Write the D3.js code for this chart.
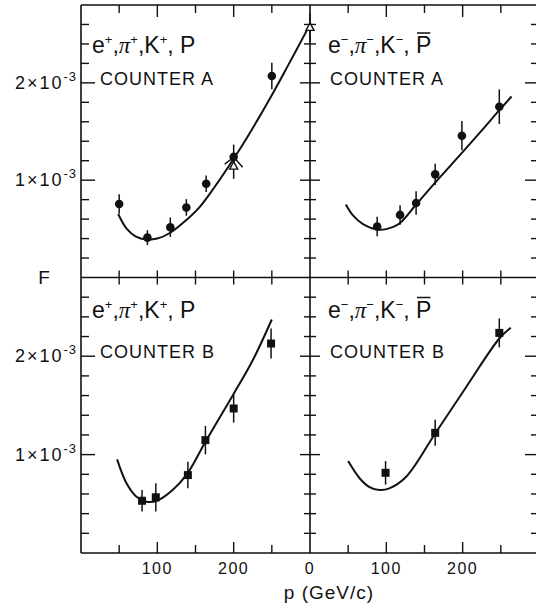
<!DOCTYPE html>
<html>
<head>
<meta charset="utf-8">
<script src="https://cdn.jsdelivr.net/npm/d3@7"></script>
<style>
body { margin: 0; background: #fff; }
svg { display: block; }
text { font-family: "Liberation Sans", Arial, sans-serif; fill: #111; }
</style>
</head>
<body>
<div id="chart"></div>
<script>
// F values are in units of 1e-3, p in GeV/c

// counter A, positive particles (filled circles)
var aPosP = [50, 87, 117, 138, 164, 200, 250]
var aPosF = [0.755, 0.41, 0.517, 0.72, 0.964, 1.239, 2.07]
var aPosE = [0.10, 0.076, 0.10, 0.085, 0.085, 0.127, 0.136]
// counter A, positive, open triangles
var aTriP = [200, 300]
var aTriF = [1.144, 2.57]
var aTriE = [0.13, 0.15]
// counter A, negative particles (filled circles)
var aNegP = [88, 118, 139, 164, 199, 248]
var aNegF = [0.524, 0.643, 0.765, 1.06, 1.457, 1.755]
var aNegE = [0.10, 0.10, 0.12, 0.11, 0.15, 0.178]
// counter B, positive (filled squares)
var bPosP = [80, 98, 140, 163, 200, 249]
var bPosF = [0.531, 0.566, 0.792, 1.147, 1.469, 2.129]
var bPosE = [0.11, 0.144, 0.135, 0.144, 0.144, 0.152]
// counter B, negative (filled squares)
var bNegP = [99, 164, 248]
var bNegF = [0.815, 1.221, 2.237]
var bNegE = [0.12, 0.132, 0.147]

// fitted curves
var aPosCurveP = [48.7, 60, 72, 85, 100, 117, 138, 155, 175, 200, 220, 249, 272, 298]
var aPosCurveF = [0.653, 0.50, 0.42, 0.39, 0.40, 0.46, 0.59, 0.72, 0.93, 1.22, 1.47, 1.86, 2.19, 2.57]
var aNegCurveP = [47, 56, 70, 91, 109, 118, 139, 164, 199, 226, 248, 264]
var aNegCurveF = [0.75, 0.64, 0.545, 0.49, 0.52, 0.56, 0.75, 0.975, 1.28, 1.52, 1.72, 1.86]
var bPosCurveP = [47.3, 59.6, 72.6, 85.7, 98.7, 120, 140, 163, 199, 225, 250]
var bPosCurveF = [0.951, 0.708, 0.572, 0.521, 0.528, 0.64, 0.815, 1.13, 1.604, 1.959, 2.373]
var bNegCurveP = [50, 65, 78, 91, 104, 126, 164, 204, 248, 263]
var bNegCurveF = [0.934, 0.76, 0.67, 0.64, 0.657, 0.775, 1.215, 1.68, 2.18, 2.29]

var xTicks = [50, 100, 150, 200, 250]
var yTicks = [0.2, 0.4, 0.6, 0.8, 1.0, 1.2, 1.4, 1.6, 1.8, 2.0, 2.2, 2.4, 2.6]
var yLabelVals = [1, 2]
var xLabelsLeft = [100, 200]
var xLabelsRight = [0, 100, 200]

var W = 536, H = 612
var svg = d3.select("#chart").append("svg")
    .attr("width", W)
    .attr("height", H)

var xL = d3.scaleLinear().domain([0, 300]).range([81, 310])
var xR = d3.scaleLinear().domain([0, 300]).range([310, 539])
var yT = d3.scaleLinear().domain([0, 2.8]).range([277.5, 5])
var yB = d3.scaleLinear().domain([0, 2.8]).range([553, 277.5])

var ink = "#111"

function zip(p, f, e) {
    return p.map(function(d, i) {
        return {p: d, f: f[i], e: e ? e[i] : 0};
    });
}

var panels = [
    {x: xL, y: yT, pts: zip(aPosP, aPosF, aPosE), mark: "circle", curve: zip(aPosCurveP, aPosCurveF), sign: "+", counter: "COUNTER A"},
    {x: xR, y: yT, pts: zip(aNegP, aNegF, aNegE), mark: "circle", curve: zip(aNegCurveP, aNegCurveF), sign: "-", counter: "COUNTER A"},
    {x: xL, y: yB, pts: zip(bPosP, bPosF, bPosE), mark: "square", curve: zip(bPosCurveP, bPosCurveF), sign: "+", counter: "COUNTER B"},
    {x: xR, y: yB, pts: zip(bNegP, bNegF, bNegE), mark: "square", curve: zip(bNegCurveP, bNegCurveF), sign: "-", counter: "COUNTER B"}
]

// frame
var frame = svg.append("g")
    .attr("stroke", ink)
    .attr("stroke-width", 1.6)
    .attr("fill", "none")
frame.append("path").attr("d", "M81,5H539M81,277.5H539M81,553H539")
frame.append("path").attr("d", "M81,5V553M310,5V553M539,5V553")

// y ticks
var ticks = svg.append("g").attr("stroke", ink).attr("stroke-width", 1.4)
;[yT, yB].forEach(function(y) {
    yTicks.forEach(function(v) {
        var major = Math.abs(v - Math.round(v)) < 1e-6
        var len = major ? 14 : 8
        var yy = y(v)
        ticks.append("line").attr("x1", 81).attr("x2", 81 + len).attr("y1", yy).attr("y2", yy)
        ticks.append("line").attr("x1", 310 - (major ? 10 : 6)).attr("x2", 310 + (major ? 10 : 6)).attr("y1", yy).attr("y2", yy)
        ticks.append("line").attr("x1", 539 - len).attr("x2", 539).attr("y1", yy).attr("y2", yy)
    })
})
// x ticks
;[xL, xR].forEach(function(x) {
    xTicks.forEach(function(v) {
        var major = v % 100 == 0
        var xx = x(v)
        ticks.append("line").attr("x1", xx).attr("x2", xx).attr("y1", 5).attr("y2", 5 + (major ? 12 : 8))
        ticks.append("line").attr("x1", xx).attr("x2", xx).attr("y1", 277.5 - 7).attr("y2", 277.5 + 7)
        ticks.append("line").attr("x1", xx).attr("x2", xx).attr("y1", 553 - (major ? 11 : 8)).attr("y2", 553)
    })
})

// y tick labels
;[yT, yB].forEach(function(y) {
    yLabelVals.forEach(function(v) {
        var t = svg.append("text")
            .attr("x", 77)
            .attr("y", y(v) + 6)
            .attr("text-anchor", "end")
            .attr("font-size", 18)
            .attr("letter-spacing", 2)
        t.append("tspan").text(v + "×10")
        t.append("tspan").attr("dy", -8).attr("font-size", 13).attr("letter-spacing", 1).text("-3")
    })
})

// x tick labels
xLabelsLeft.forEach(function(v) {
    svg.append("text").attr("x", xL(v)).attr("y", 574)
        .attr("text-anchor", "middle").attr("font-size", 16).attr("letter-spacing", 1.5)
        .text(v)
})
xLabelsRight.forEach(function(v) {
    svg.append("text").attr("x", xR(v)).attr("y", 574)
        .attr("text-anchor", "middle").attr("font-size", 16).attr("letter-spacing", 1.5)
        .text(v)
})

// axis titles
svg.append("text").attr("x", 44).attr("y", 284).attr("text-anchor", "middle")
    .attr("font-size", 19).text("F")
svg.append("text").attr("x", 329).attr("y", 599).attr("text-anchor", "middle")
    .attr("font-size", 19).attr("letter-spacing", 1).text("p (GeV/c)")

// panel labels
panels.forEach(function(pn, k) {
    var x0 = pn.x(0) + (pn.sign == "+" ? 11 : 18)
    var top = pn.y.range()[1]
    var t = svg.append("text")
        .attr("x", x0)
        .attr("y", top + (k < 2 ? 48 : 40))
        .attr("font-size", 23)
    var s = pn.sign == "+" ? "+" : "−"
    t.append("tspan").text("e")
    t.append("tspan").attr("dy", -9).attr("font-size", 13).text(s)
    t.append("tspan").attr("dy", 9).text(",")
    t.append("tspan").attr("font-family", "Liberation Serif").attr("font-style", "italic").text("π")
    t.append("tspan").attr("dy", -9).attr("font-size", 13).text(s)
    t.append("tspan").attr("dy", 9).text(",K")
    t.append("tspan").attr("dy", -9).attr("font-size", 13).text(s)
    t.append("tspan").attr("dy", 9).text(", P")
    if (pn.sign == "-") {
        var node = t.node()
        var n = node.getNumberOfChars()
        var a = node.getStartPositionOfChar(n - 1)
        var b = node.getEndPositionOfChar(n - 1)
        svg.append("line")
            .attr("x1", a.x + 1).attr("x2", b.x - 1)
            .attr("y1", a.y - 20).attr("y2", a.y - 20)
            .attr("stroke", ink).attr("stroke-width", 1.5)
    }
    svg.append("text")
        .attr("x", pn.x(0) + (pn.sign == "+" ? 19 : 20))
        .attr("y", top + 80)
        .attr("font-size", 18)
        .attr("letter-spacing", 1)
        .text(pn.counter)
})

// curves
var plot = svg.append("g")
panels.forEach(function(pn) {
    var line = d3.line()
        .x(function(d) { return pn.x(d.p); })
        .y(function(d) { return pn.y(d.f); })
        .curve(d3.curveCatmullRom.alpha(0.5))
    plot.append("path")
        .datum(pn.curve)
        .attr("d", line)
        .attr("fill", "none")
        .attr("stroke", ink)
        .attr("stroke-width", 2)
})

// error bars and markers
panels.forEach(function(pn) {
    var g = plot.append("g")
    g.selectAll("line.err")
        .data(pn.pts)
        .enter().append("line")
        .attr("class", "err")
        .attr("x1", function(d) { return pn.x(d.p); })
        .attr("x2", function(d) { return pn.x(d.p); })
        .attr("y1", function(d) { return pn.y(d.f - d.e); })
        .attr("y2", function(d) { return pn.y(d.f + d.e); })
        .attr("stroke", ink)
        .attr("stroke-width", 1.5)
    if (pn.mark == "circle") {
        g.selectAll("circle")
            .data(pn.pts)
            .enter().append("circle")
            .attr("cx", function(d) { return pn.x(d.p); })
            .attr("cy", function(d) { return pn.y(d.f); })
            .attr("r", 4.3)
            .attr("fill", ink)
    } else {
        g.selectAll("rect")
            .data(pn.pts)
            .enter().append("rect")
            .attr("x", function(d) { return pn.x(d.p) - 4; })
            .attr("y", function(d) { return pn.y(d.f) - 4; })
            .attr("width", 8)
            .attr("height", 8)
            .attr("fill", ink)
    }
})

// open triangles (counter A, positive)
var tri = zip(aTriP, aTriF, aTriE)
var tg = plot.append("g")
tg.selectAll("line")
    .data(tri)
    .enter().append("line")
    .attr("x1", function(d) { return xL(d.p); })
    .attr("x2", function(d) { return xL(d.p); })
    .attr("y1", function(d) { return yT(d.f - d.e); })
    .attr("y2", function(d) { return yT(d.f + d.e); })
    .attr("stroke", ink)
    .attr("stroke-width", 1.5)
tg.selectAll("path")
    .data(tri)
    .enter().append("path")
    .attr("d", function(d) {
        var cx = xL(d.p), cy = yT(d.f)
        return "M" + cx + "," + (cy - 4.5) + "L" + (cx + 4) + "," + (cy + 3) + "L" + (cx - 4) + "," + (cy + 3) + "Z"
    })
    .attr("fill", "#fff")
    .attr("stroke", ink)
    .attr("stroke-width", 1.4)
// caret drawn over the first triangle
var c0 = tri[0]
tg.append("path")
    .attr("d", "M" + (xL(c0.p) - 9) + "," + (yT(c0.f) - 2) + "L" + (xL(c0.p) - 1) + "," + (yT(c0.f) - 8) +
        "M" + (xL(c0.p) + 1) + "," + (yT(c0.f) - 8) + "L" + (xL(c0.p) + 9) + "," + (yT(c0.f) + 1))
    .attr("fill", "none")
    .attr("stroke", ink)
    .attr("stroke-width", 1.4)
</script>
</body>
</html>
